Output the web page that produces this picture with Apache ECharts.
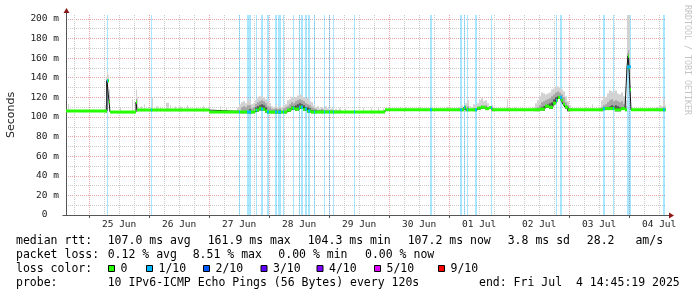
<!DOCTYPE html>
<html><head><meta charset="utf-8">
<script src="https://cdn.jsdelivr.net/npm/echarts@6.0.0/dist/echarts.min.js"></script>
<style>html,body{margin:0;padding:0;background:#fff;}#chart{width:697px;height:297px;}</style>
</head><body><div id="chart"></div>
<script>
// ---- DATA (time = hours since 24 Jun 2025 00:00, values in ms) ----
const tStart = 14.75, tEnd = 254.75;
const yMax = 204;
const dayLabels = ['25 Jun','26 Jun','27 Jun','28 Jun','29 Jun','30 Jun','01 Jul','02 Jul','03 Jul','04 Jul'];
const dayNoons  = [36, 60, 84, 108, 132, 156, 180, 204, 228, 252];
const yLabelValues = [0, 20, 40, 60, 80, 100, 120, 140, 160, 180, 200];

// median rtt: value holds from medT[i] until the next breakpoint
const medT = [14.75, 31.15, 31.95, 32.35, 42.75, 43.15, 72, 90.35, 91.95, 92.75, 94.35, 95.15, 103.15, 104.75, 106.35, 107.95, 109.55, 111.15, 112.75, 142.35, 173.95, 174.75, 179.15, 180.75, 182.35, 183.95, 185.15, 204.35, 206.35, 207.95, 209.55, 210.75, 211.55, 212.75, 213.55, 214.35, 215.55, 229.55, 234.35, 236.75, 238.35, 239.15, 239.55, 239.95, 240.35, 240.75];
const medV = [106, 137, 115.6, 105, 115, 107, 105, 107, 109, 108, 106, 105, 107, 109, 108, 110, 108, 106, 105, 107.3, 110, 107.3, 109, 110, 108.5, 109.5, 107.3, 108, 111, 110, 114, 117, 120, 117, 113, 110, 107.3, 108.5, 107.3, 108.5, 107.3, 151, 162, 150, 128, 107.3];

// packet loss (1/10) periods
const lossStart = [31.15, 48.75, 83.95, 87.15, 90.75, 92.75, 95.15, 98.35, 99.55, 101.55, 105.55, 107.95, 108.75, 110.35, 111.55, 113.95, 117.95, 119.95, 121.55, 129.95, 160.35, 172.35, 173.95, 175.15, 178.35, 184.75, 210.75, 212.35, 229.55, 233.55, 239.15, 253.55];
const lossEnd   = [31.55, 49.15, 84.35, 88.75, 91.15, 93.55, 95.95, 99.15, 100.75, 101.95, 105.95, 108.35, 109.55, 111.15, 112.35, 114.35, 118.35, 120.35, 121.95, 130.35, 161.15, 173.15, 174.35, 175.55, 179.15, 185.15, 211.15, 213.15, 230.35, 233.95, 240.75, 254.35];

// smoke: [from, to, outer ping top, middle ping top, inner ping top] (0 = none)
const smokeEarly = [
 [15.55,15.95,113,0,0],[30.35,30.75,112,0,0],[30.75,31.15,140,137,137],[31.15,31.55,146,0,0],
 [31.55,31.95,143,0,0],[31.95,32.35,128,117,116],[36.35,36.75,110,0,0],[41.15,41.55,118,0,0],
 [42.75,43.15,128,118,115],[43.15,43.55,120,0,0],[44.75,45.15,111,0,0],[45.95,46.35,113,0,0],
 [49.15,49.55,120,0,0],[50.75,51.55,111,0,0],[52.35,52.75,110.5,0,0],[54.75,55.95,114.5,0,0],
 [56.35,56.75,112,0,0],[58.35,58.75,111,0,0],[59.55,61.15,110.5,0,0],[63.15,63.55,112,0,0],
 [66.75,67.15,110.5,0,0],[69.55,69.95,111,0,0],[71.95,72.35,113,0,0],[76.35,76.75,111,0,0],
 [78.75,79.15,110,0,0]
];
const smoke27Jun = [
 [82.35,83.15,107,0,0],[83.15,83.95,110,0,0],[83.95,84.75,113,0,0],[84.75,85.55,115,110,0],
 [85.55,86.35,116,111,0],[86.35,87.15,114,110,0],[87.15,87.95,118,112,0],[87.95,88.75,117,112,108],
 [88.75,89.55,113,109,0],[89.55,90.35,114,110,0],[90.35,91.15,117,113,110],[91.15,91.95,119,115,111],
 [91.95,92.75,121,116,112],[92.75,93.55,121,117,113],[93.55,94.35,120,116,112],[94.35,95.15,118,114,110],
 [95.15,95.95,116,111,0],[95.95,96.75,114,110,0],[96.75,97.55,111,108,0],[97.55,98.35,110,108,0],
 [98.35,99.15,112,109,107],[99.15,99.95,110,108,0],[99.95,100.75,111,109,107],[100.75,101.55,110,0,0],
 [101.55,102.35,112,109,0],[102.35,103.15,113,110,0],[103.15,103.95,117,111,0],[103.95,104.75,118,113,109],
 [104.75,105.55,120,115,111],[105.55,106.35,119,114,111],[106.35,107.15,120,116,112],[107.15,107.95,122,117,113],
 [107.95,108.75,123,118,114],[108.75,109.55,122,117,113],[109.55,110.35,120,116,112],[110.35,111.15,119,114,110],
 [111.15,111.95,120,113,110],[111.95,112.75,116,112,109],[112.75,113.55,115,110,0],[113.55,114.35,112,109,0],
 [114.35,115.15,110,108,0],[115.15,115.95,111,0,0],[115.95,116.75,109,0,0],[116.75,117.55,110,108,0],
 [117.55,118.35,109,0,0],[118.35,119.15,111,0,0],[119.15,119.95,109,0,0],[119.95,120.75,108,0,0],
 [120.75,121.55,109,0,0],[121.55,122.35,107,0,0],[122.35,123.15,108,0,0],[123.15,123.95,107,0,0],
 [123.95,124.75,109,0,0]
];
const smokeMid = [
 [126.35,126.75,108.5,0,0],[133.55,133.95,109.5,0,0],[136.75,137.15,109.5,0,0],[139.55,139.95,110,0,0],
 [141.55,141.95,109,0,0],[150.35,150.75,110,0,0],[155.55,155.95,109.5,0,0],[162.75,163.15,110,0,0],
 [167.15,167.55,110.5,0,0]
];
const smoke01Jul = [
 [170.35,171.15,108,0,0],[171.15,171.95,109,0,0],[171.95,172.75,110,0,0],[172.75,173.55,112,109,0],
 [173.55,174.35,110,0,0],[174.35,175.15,114,110,0],[175.15,175.95,117,111,0],[175.95,176.75,111,0,0],
 [176.75,177.55,110,0,0],[177.55,178.35,113,109,0],[178.35,179.15,112,109,0],[179.15,179.95,114,110,0],
 [179.95,180.75,117,111,109],[180.75,181.55,119,112,109],[181.55,182.35,116,111,109],[182.35,183.15,117,112,109],
 [183.15,183.95,114,110,0],[183.95,184.75,111,109,0],[184.75,185.55,112,109,0],[185.55,186.35,110,0,0],
 [186.35,187.15,108,0,0],[191.15,191.55,118,0,0],[194.35,194.75,110,0,0],[197.15,197.55,109.5,0,0]
];
const smoke02Jul = [
 [201.55,202.35,110,0,0],[202.35,203.15,114,109,0],[203.15,203.95,117,110,0],[203.95,204.75,121,112,0],
 [204.75,205.55,125,115,110],[205.55,206.35,124,116,111],[206.35,207.15,123,117,112],[207.15,207.95,124,118,113],
 [207.95,208.75,125,119,114],[208.75,209.55,128,121,115],[209.55,210.35,129,123,118],[210.35,211.15,131,125,120],
 [211.15,211.95,131,126,121],[211.95,212.75,130,125,121],[212.75,213.55,128,123,118],[213.55,214.35,126,120,114],
 [214.35,215.15,121,115,111],[215.15,215.95,116,112,109],[215.95,216.75,112,109,0],[216.75,217.55,109,0,0],
 [222.35,222.75,110,0,0],[225.15,225.55,113,0,0]
];
const smoke03Jul = [
 [227.95,228.75,110,0,0],[228.75,229.55,117,110,0],[229.55,230.35,121,112,0],[230.35,231.15,120,113,109],
 [231.15,231.95,124,115,110],[231.95,232.75,127,117,111],[232.75,233.55,126,118,112],[233.55,234.35,125,116,111],
 [234.35,235.15,127,117,112],[235.15,235.95,124,116,111],[235.95,236.75,123,115,110],[236.75,237.55,125,116,110],
 [237.55,238.35,121,113,109],[238.35,239.15,117,111,0],[239.15,239.55,204,165,151],[239.55,239.95,204,168,162],
 [239.95,240.35,204,160,150],[240.35,240.75,150,132,128],[244.35,244.75,109,0,0],[247.55,247.95,110,0,0]
];
const smoke04Jul = [
 [250.35,251.15,109,0,0],[251.15,251.95,110,0,0],[251.95,252.75,112,108,0],[252.75,253.55,111,0,0],
 [253.55,254.35,118,110,0],[254.35,254.75,112,0,0]
];

const lossColors = ['#26ff00','#00b8ff','#0059ff','#5e00ff','#7e00ff','#dd00ff','#ff0000'];
const lossLabels = ['0','1/10','2/10','3/10','4/10','5/10','9/10'];
const rttStats  = ['107.0 ms avg','161.9 ms max','104.3 ms min','107.2 ms now','3.8 ms sd'];
const amStat    = ['28.2','am/s'];
const lossStats = ['0.12 % avg','8.51 % max','0.00 % min','0.00 % now'];
const probeText = '10 IPv6-ICMP Echo Pings (56 Bytes) every 120s';
const endText   = 'end: Fri Jul  4 14:45:19 2025';
const watermark = 'RRDTOOL / TOBI OETIKER';

// ---- CHART ----
const MONO = '"DejaVu Sans Mono", monospace';
const midnights = [], sixHours = [];
for (let h = 18; h < tEnd; h += 6) { if (h % 24 === 0) midnights.push(h); else sixHours.push(h); }

function medAt(t) { let v = medV[0]; for (let i = 0; i < medT.length; i++) { if (medT[i] <= t + 1e-9) v = medV[i]; } return v; }
const medSegs = medT.map((t, i) => [t, i + 1 < medT.length ? medT[i + 1] : tEnd, medV[i]]);
const medLine = medT.map((t, i) => [t, medV[i]]).concat([[tEnd, medV[medV.length - 1]]]);
const smokeAll = [].concat(smokeEarly, smoke27Jun, smokeMid, smoke01Jul, smoke02Jul, smoke03Jul, smoke04Jul);
const lossData = lossStart.map((s, i) => [s, lossEnd[i]]);

const chart = echarts.init(document.getElementById('chart'), null, {renderer: 'canvas'});

function rect(api, t0, t1, vLo, vHi, fill) {
  const a = api.coord([t0, vHi]), b = api.coord([t1, vLo]);
  return {type: 'rect', shape: {x: a[0], y: a[1], width: b[0] - a[0], height: b[1] - a[1]}, style: {fill: fill}};
}

const option = {
  animation: false,
  backgroundColor: '#ffffff',
  grid: {left: 66, top: 15, width: 600, height: 200},
  xAxis: [{
    type: 'value', min: tStart, max: tEnd, position: 'bottom',
    axisLine: {show: true, onZero: false, lineStyle: {color: '#555', width: 1}},
    axisTick: {show: true, customValues: midnights, length: 3, lineStyle: {color: '#555'}},
    axisLabel: {customValues: dayNoons, margin: 5, color: '#222', fontFamily: MONO, fontSize: 9.5,
      formatter: v => dayLabels[dayNoons.indexOf(v)] || ''},
    splitLine: {show: true, lineStyle: {color: '#e6a3a3', width: 1, type: [1, 1]}}
  }, {
    type: 'value', min: tStart, max: tEnd, position: 'bottom',
    axisLine: {show: false}, axisTick: {show: false, customValues: sixHours}, axisLabel: {show: false},
    splitLine: {show: true, lineStyle: {color: '#cbcbcb', width: 1, type: [1, 1]}}
  }],
  yAxis: {
    type: 'value', min: 0, max: yMax, interval: 10,
    axisLine: {show: true, onZero: false, lineStyle: {color: '#555', width: 1}},
    axisTick: {show: false},
    axisLabel: {margin: 7, color: '#222', fontFamily: MONO, fontSize: 9.5,
      formatter: v => yLabelValues.indexOf(v) < 0 ? '' : (v === 0 ? '0  ' : v + ' m')},
    splitLine: {show: true, showMaxLine: false, lineStyle: {color: ['#e6a3a3', '#cbcbcb'], width: 1, type: [1, 1]}}
  },
  series: [{
    type: 'custom', name: 'loss', clip: true, z: 2, data: lossData,
    renderItem: (p, api) => rect(api, api.value(0), api.value(1), 0, yMax, 'rgba(0,184,255,0.34)')
  }, {
    type: 'custom', name: 'smoke', clip: true, z: 3, data: smokeAll,
    renderItem: (p, api) => {
      const t0 = api.value(0), t1 = api.value(1);
      const base = medAt((t0 + t1) / 2) - 1.5;
      const kids = [];
      const tops = [api.value(2), api.value(3), api.value(4)];
      const fills = ['#d2d2d2', '#a6a6a6', '#5a5a5a'];
      for (let k = 0; k < 3; k++) if (tops[k] > base) kids.push(rect(api, t0, t1, base, tops[k], fills[k]));
      return {type: 'group', children: kids};
    }
  }, {
    type: 'line', name: 'median', data: medLine, step: 'end', showSymbol: false, symbol: 'none', z: 4,
    lineStyle: {color: '#151515', width: 1}
  }, {
    type: 'custom', name: 'median0', clip: true, z: 5, data: medSegs,
    renderItem: (p, api) => {
      const a = api.coord([api.value(0), api.value(2)]), b = api.coord([api.value(1), api.value(2)]);
      return {type: 'rect', shape: {x: a[0], y: a[1] - 1.5, width: b[0] - a[0], height: 3}, style: {fill: lossColors[0]}};
    }
  }, {
    type: 'custom', name: 'median1', clip: true, z: 6, data: lossData,
    renderItem: (p, api) => {
      const v = medAt(api.value(0));
      const a = api.coord([api.value(0), v]), b = api.coord([api.value(1), v]);
      return {type: 'rect', shape: {x: a[0], y: a[1] - 1.5, width: b[0] - a[0], height: 3}, style: {fill: lossColors[1]}};
    }
  }]
};
chart.setOption(option);

// ---- decorations / legend text ----
function txt(x, y, s, size, color, extra) {
  return Object.assign({type: 'text', x: x, y: y, silent: true,
    style: {text: s, font: size + 'px ' + MONO, fill: color || '#000', align: 'left', verticalAlign: 'middle'}}, extra || {});
}
const o = chart.convertToPixel({xAxisIndex: 0, yAxisIndex: 0}, [tStart, 0]);
const tr = chart.convertToPixel({xAxisIndex: 0, yAxisIndex: 0}, [tEnd, yMax]);
const ax = Math.round(o[0]) + 0.5, ay = Math.round(o[1]) + 0.5;
const g = [];
// axis extensions + arrows
g.push({type: 'line', shape: {x1: ax, y1: tr[1], x2: ax, y2: tr[1] - 3}, style: {stroke: '#555', lineWidth: 1}});
g.push({type: 'line', shape: {x1: tr[0], y1: ay, x2: tr[0] + 3, y2: ay}, style: {stroke: '#555', lineWidth: 1}});
g.push({type: 'line', shape: {x1: ax - 4, y1: ay, x2: ax, y2: ay}, style: {stroke: '#555', lineWidth: 1}});
g.push({type: 'polygon', shape: {points: [[ax - 3, tr[1] - 2], [ax + 3, tr[1] - 2], [ax, tr[1] - 7]]}, style: {fill: '#8b1a1a'}});
g.push({type: 'polygon', shape: {points: [[tr[0] + 3, ay - 3], [tr[0] + 3, ay + 3], [tr[0] + 8, ay]]}, style: {fill: '#8b1a1a'}});
// y title
g.push({type: 'text', x: 11, y: 115, rotation: Math.PI / 2, silent: true,
  style: {text: 'Seconds', font: '11px "DejaVu Sans", sans-serif', fill: '#222', align: 'center', verticalAlign: 'middle'}});
// watermark
g.push(txt(687.5, 5, watermark, 8.3, '#c4c4c4', {rotation: -Math.PI / 2}));
// legend lines
const L1 = 241, L2 = 255, L3 = 269, L4 = 283, FS = 11.5;
g.push(txt(16, L1, 'median rtt:', FS));
[107.7, 207.7, 307.7, 407.7, 507.7].forEach((x, i) => g.push(txt(x, L1, rttStats[i], FS)));
g.push(txt(586.8, L1, amStat[0], FS));
g.push(txt(635.4, L1, amStat[1], FS));
g.push(txt(16, L2, 'packet loss:', FS));
[107.7, 192.7, 278.3, 365].forEach((x, i) => g.push(txt(x, L2, lossStats[i], FS)));
g.push(txt(16, L3, 'loss color:', FS));
[108, 146, 203, 260.5, 316.5, 374, 438].forEach((x, i) => {
  g.push({type: 'rect', shape: {x: x + 0.5, y: 265.5, width: 6, height: 6}, style: {fill: lossColors[i], stroke: '#000', lineWidth: 1}});
  g.push(txt(x + 12.5, L3, lossLabels[i], FS));
});
g.push(txt(16, L4, 'probe:', FS));
g.push(txt(107.7, L4, probeText, FS));
g.push(txt(479, L4, endText, FS));
chart.setOption({graphic: g});
</script></body></html>
